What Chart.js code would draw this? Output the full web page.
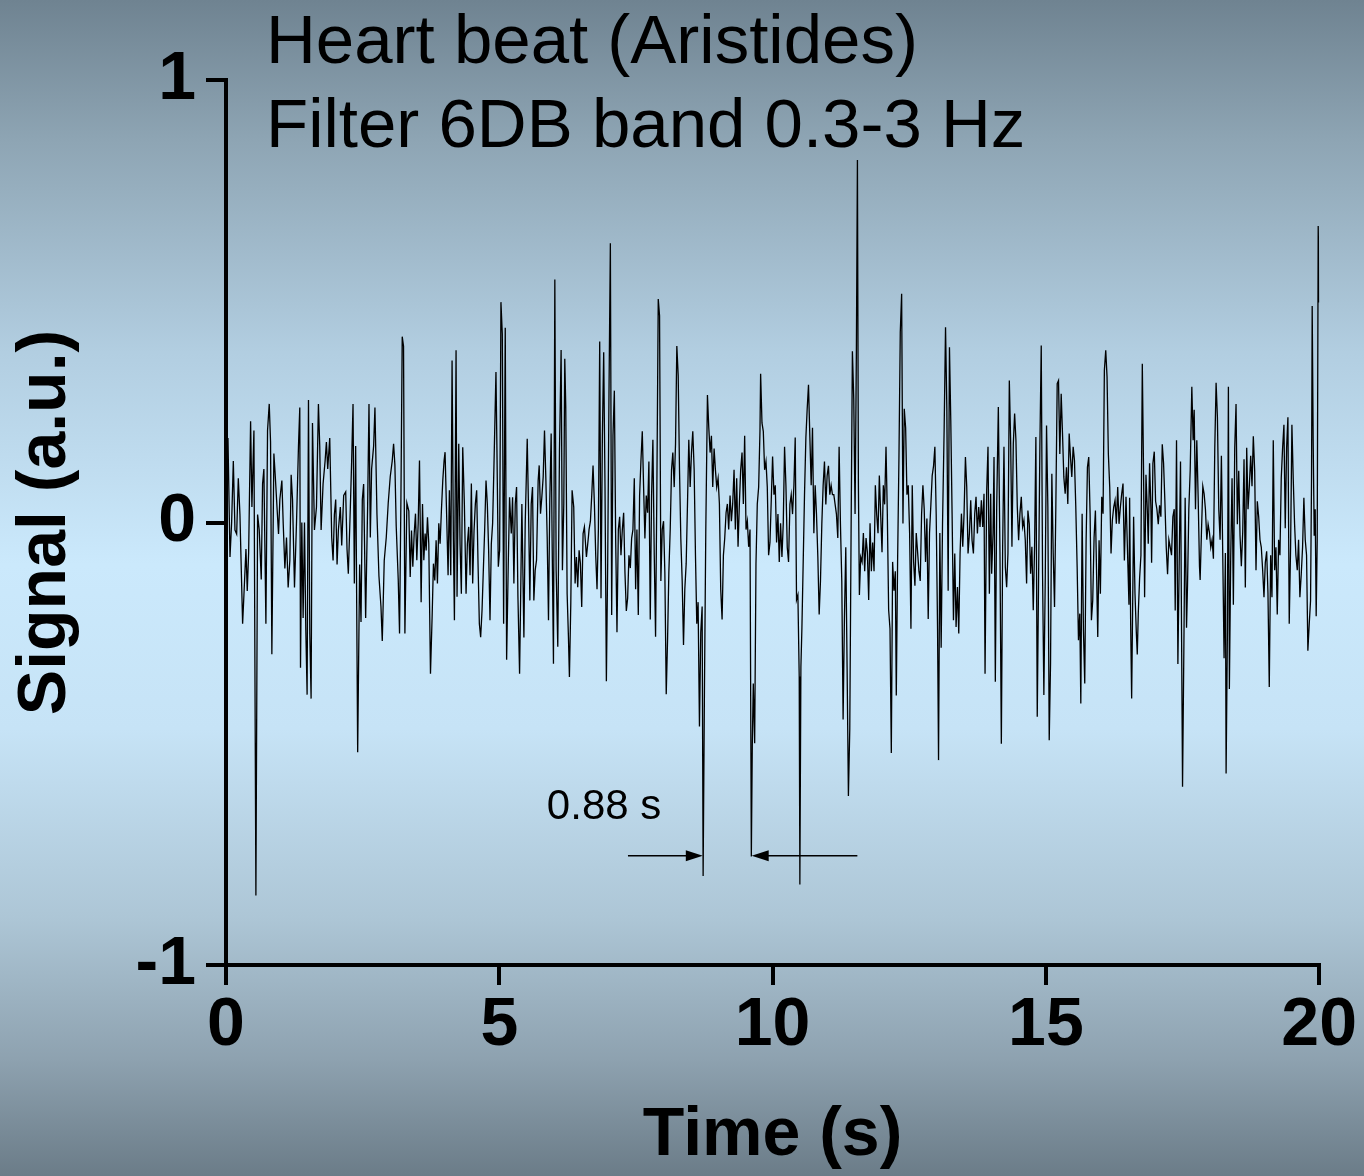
<!DOCTYPE html>
<html>
<head>
<meta charset="utf-8">
<title>Heart beat (Aristides)</title>
<script src="https://cdn.jsdelivr.net/npm/chart.js@4.4.1/dist/chart.umd.min.js"></script>
<style>
    html, body { margin: 0; padding: 0; }
    body {
        width: 1364px;
        height: 1176px;
        overflow: hidden;
        background: linear-gradient(to bottom,
            #6f8391 0%, #8ea5b4 12%, #b2cee1 30%, #cbe9fc 48%,
            #c6e3f6 62%, #adc6d6 78%, #8ea2b0 90%, #6b7c88 100%);
    }
    canvas { display: block; }
</style>
</head>
<body>
<canvas id="chart" width="1364" height="1176"></canvas>
<script>
// Readings: [time (s), signal (a.u.)]
const trace0to3 = [
    [0.036,0.191],[0.073,-0.078],[0.103,0.000],[0.134,0.139],[0.164,-0.017],[0.195,-0.026],[0.225,0.100],[0.255,0.018],
    [0.304,-0.229],[0.328,-0.164],[0.365,-0.060],[0.389,-0.155],[0.414,-0.069],[0.450,0.229],[0.474,0.035],[0.511,0.208],
    [0.547,-0.843],[0.578,0.018],[0.608,-0.017],[0.645,-0.129],[0.669,0.087],[0.693,0.121],[0.730,-0.229],[0.760,0.208],
    [0.791,0.268],[0.815,0.182],[0.839,-0.298],[0.876,0.156],[0.900,0.108],[0.937,0.026],[0.961,-0.026],[0.985,0.052],
    [1.022,0.095],[1.046,0.000],[1.077,-0.104],[1.107,-0.034],[1.137,-0.147],[1.168,-0.086],[1.192,0.108],[1.217,0.052],
    [1.253,-0.147],[1.290,0.000],[1.326,0.173],[1.350,0.260],[1.363,-0.328],[1.387,0.000],[1.411,-0.216],[1.436,0.000],
    [1.460,-0.242],[1.484,-0.389],[1.509,0.277],[1.533,-0.251],[1.557,-0.398],[1.582,0.225],[1.618,-0.017],[1.655,0.035],
    [1.691,0.268],[1.715,0.173],[1.740,-0.017],[1.776,0.087],[1.813,0.139],[1.837,0.182],[1.861,0.121],[1.898,0.191],
    [1.934,-0.034],[1.959,-0.086],[1.983,0.018],[2.007,0.052],[2.032,-0.095],[2.056,-0.017],[2.092,0.035],[2.117,-0.052],
    [2.153,0.061],[2.190,0.069],[2.214,-0.060],[2.238,-0.116],[2.275,0.035],[2.299,0.139],[2.324,0.268],[2.348,-0.138],
    [2.372,0.173],[2.409,-0.519],[2.445,-0.095],[2.470,-0.225],[2.494,0.052],[2.518,0.087],[2.555,-0.216],[2.591,0.035],
    [2.616,0.268],[2.640,-0.034],[2.664,0.121],[2.701,0.173],[2.725,0.260],[2.762,0.018],[2.798,-0.121],[2.835,-0.190],
    [2.859,-0.268],[2.895,-0.086],[2.932,-0.034],[2.968,0.044],[3.005,0.104],[3.041,0.139],[3.066,0.178],[3.090,0.130],
    [3.114,-0.008],[3.151,-0.129],[3.175,-0.251],[3.200,0.052],[3.224,0.420],[3.248,0.398],[3.273,-0.251],[3.309,0.044],
    [3.345,0.026]
];
const trace3to6 = [
    [3.370,-0.123],[3.394,-0.018],[3.418,-0.100],[3.443,-0.025],[3.467,0.020],[3.491,-0.085],[3.516,-0.002],[3.540,0.140],
    [3.570,-0.180],[3.595,0.042],[3.619,-0.085],[3.643,-0.025],[3.662,-0.063],[3.686,0.012],[3.710,-0.048],[3.741,-0.342],
    [3.771,-0.213],[3.795,-0.093],[3.820,-0.131],[3.844,-0.040],[3.868,-0.138],[3.893,-0.002],[3.917,-0.048],[3.941,0.027],
    [3.966,0.095],[3.990,0.140],[4.008,0.159],[4.033,0.035],[4.063,-0.119],[4.087,0.073],[4.112,-0.119],[4.136,0.366],
    [4.160,-0.040],[4.179,-0.221],[4.209,0.389],[4.227,-0.168],[4.258,0.178],[4.282,-0.048],[4.306,-0.161],[4.331,0.170],
    [4.361,0.042],[4.392,-0.161],[4.416,-0.048],[4.440,-0.010],[4.465,-0.119],[4.489,0.088],[4.513,-0.138],[4.538,-0.018],
    [4.562,0.042],[4.586,0.073],[4.611,-0.093],[4.635,-0.229],[4.659,-0.259],[4.684,-0.199],[4.708,-0.108],[4.732,-0.018],
    [4.757,0.095],[4.781,0.042],[4.805,-0.063],[4.830,-0.221],[4.854,-0.048],[4.878,-0.002],[4.903,0.133],[4.939,0.340],
    [4.957,0.163],[4.982,-0.100],[5.006,-0.063],[5.030,0.498],[5.055,0.426],[5.079,-0.229],[5.109,0.440],[5.134,-0.310],
    [5.164,-0.093],[5.188,0.057],[5.219,-0.025],[5.243,0.057],[5.267,-0.138],[5.292,0.042],[5.316,0.080],[5.341,-0.168],
    [5.371,-0.342],[5.389,-0.184],[5.413,0.042],[5.450,-0.260],[5.474,-0.002],[5.493,0.095],[5.511,0.189],[5.535,0.027],
    [5.559,-0.176],[5.584,0.042],[5.608,0.080],[5.632,-0.176],[5.657,-0.108],[5.681,-0.085],[5.711,0.095],[5.730,0.129],
    [5.754,0.020],[5.778,0.057],[5.803,0.103],[5.827,0.208],[5.851,0.103],[5.876,-0.033],[5.900,-0.221],[5.924,0.050],
    [5.949,0.201],[5.967,-0.048],[5.991,-0.319],[6.016,0.549],[6.040,-0.108],[6.070,-0.281],[6.101,0.163],[6.131,0.390],
    [6.155,-0.108],[6.180,0.042],[6.198,0.370],[6.216,0.261],[6.241,-0.161],[6.265,-0.259],[6.283,-0.349],[6.308,-0.184],
    [6.332,0.073],[6.362,0.035],[6.387,-0.138],[6.411,-0.078],[6.435,-0.146],[6.460,-0.063],[6.484,-0.093],[6.508,-0.191],
    [6.533,-0.025],[6.557,-0.010],[6.594,-0.078],[6.630,-0.033]
];
const trace6to10 = [
    [6.642,-0.016],[6.667,0.003],[6.691,0.061],[6.715,0.129],[6.740,0.042],[6.764,-0.074],[6.788,-0.151],[6.813,-0.016],
    [6.837,0.409],[6.861,-0.171],[6.886,0.196],[6.910,0.385],[6.934,0.080],[6.959,-0.359],[6.983,-0.093],[7.007,0.293],
    [7.032,0.631],[7.056,-0.209],[7.080,0.196],[7.105,0.298],[7.129,-0.036],[7.153,-0.248],[7.178,-0.016],[7.202,0.013],
    [7.226,-0.074],[7.251,-0.016],[7.275,0.022],[7.299,-0.113],[7.324,-0.200],[7.348,-0.171],[7.372,-0.074],[7.397,-0.103],
    [7.421,-0.036],[7.445,-0.016],[7.470,0.100],[7.494,-0.151],[7.518,-0.016],[7.543,-0.209],[7.567,0.061],[7.591,0.138],
    [7.616,0.206],[7.640,0.080],[7.664,-0.036],[7.689,0.061],[7.713,0.022],[7.737,0.138],[7.762,-0.219],[7.786,0.061],
    [7.810,0.187],[7.835,-0.074],[7.859,-0.258],[7.883,0.080],[7.908,0.505],[7.932,0.467],[7.956,-0.132],[7.981,-0.016],
    [8.005,0.003],[8.029,-0.113],[8.054,-0.388],[8.078,-0.267],[8.102,-0.113],[8.127,-0.016],[8.151,0.119],[8.175,0.158],
    [8.200,0.080],[8.224,0.177],[8.248,0.399],[8.273,0.332],[8.297,0.119],[8.321,-0.036],[8.346,-0.132],[8.370,-0.277],
    [8.394,-0.151],[8.419,-0.093],[8.443,0.042],[8.467,0.187],[8.492,0.080],[8.516,0.158],[8.540,0.206],[8.565,0.119],
    [8.589,-0.074],[8.613,-0.229],[8.637,-0.180],[8.662,-0.461],[8.686,-0.248],[8.711,-0.190],[8.729,-0.799],[8.753,-0.383],
    [8.778,-0.016],[8.808,0.288],[8.832,0.216],[8.857,0.158],[8.881,0.196],[8.905,0.080],[8.930,0.167],[8.954,0.119],
    [8.978,0.080],[9.003,0.100],[9.027,0.042],[9.051,-0.151],[9.076,-0.219],[9.100,-0.074],[9.124,-0.036],[9.149,0.022],
    [9.173,0.042],[9.197,-0.016],[9.222,0.061],[9.246,0.003],[9.270,0.042],[9.295,0.119],[9.319,-0.016],[9.343,0.100],
    [9.368,-0.055],[9.392,0.042],[9.416,0.119],[9.441,0.158],[9.465,0.042],[9.489,0.196],[9.514,-0.016],[9.538,0.003],
    [9.562,-0.055],[9.587,-0.016],[9.611,-0.755],[9.629,-0.499],[9.647,-0.364],[9.672,-0.499],[9.696,-0.093],[9.720,0.042],
    [9.745,0.080],[9.769,0.206],[9.781,0.336],[9.806,0.225],[9.830,0.206],[9.854,0.119],[9.879,0.138],[9.903,0.080],
    [9.927,-0.074]
];
const trace10to13 = [
    [9.952,-0.045],[9.976,0.052],[10.000,0.149],[10.025,0.063],[10.049,0.084],[10.073,-0.045],[10.098,0.019],[10.122,-0.089],
    [10.146,-0.002],[10.171,-0.078],[10.195,-0.002],[10.219,0.171],[10.244,0.084],[10.268,-0.056],[10.292,-0.089],[10.317,0.041],
    [10.341,0.063],[10.365,0.019],[10.390,0.084],[10.414,0.192],[10.438,-0.175],[10.463,-0.164],[10.487,-0.348],[10.499,-0.818],
    [10.518,-0.326],[10.536,-0.240],[10.560,-0.089],[10.584,0.063],[10.609,0.192],[10.633,0.257],[10.657,0.311],[10.682,0.192],
    [10.706,0.084],[10.730,0.214],[10.755,-0.024],[10.779,0.084],[10.803,0.019],[10.828,-0.078],[10.852,-0.208],[10.876,-0.132],
    [10.901,-0.002],[10.925,0.084],[10.949,0.138],[10.974,0.041],[10.998,0.106],[11.022,0.128],[11.047,0.063],[11.071,0.084],
    [11.095,0.063],[11.120,0.063],[11.144,0.041],[11.168,0.019],[11.193,-0.035],[11.217,0.171],[11.241,-0.002],[11.266,-0.132],
    [11.290,-0.445],[11.314,-0.218],[11.339,-0.056],[11.363,-0.326],[11.387,-0.618],[11.412,-0.467],[11.436,-0.024],[11.460,0.387],
    [11.485,0.279],[11.509,0.019],[11.533,0.387],[11.552,0.819],[11.570,0.084],[11.588,-0.164],[11.612,-0.078],[11.637,-0.089],
    [11.661,-0.024],[11.685,-0.110],[11.710,-0.035],[11.734,-0.067],[11.758,-0.175],[11.783,-0.002],[11.807,-0.110],[11.831,-0.045],
    [11.856,-0.110],[11.880,0.084],[11.904,0.019],[11.929,-0.024],[11.953,0.106],[11.977,0.019],[12.002,-0.067],[12.026,0.084],
    [12.050,0.041],[12.075,0.171],[12.099,0.019],[12.123,-0.197],[12.148,-0.240],[12.172,-0.521],[12.196,-0.089],[12.221,-0.154],
    [12.245,-0.110],[12.263,-0.391],[12.287,-0.089],[12.312,0.149],[12.336,0.430],[12.361,0.517],[12.385,-0.002],[12.409,0.257],
    [12.434,0.214],[12.458,0.063],[12.482,0.084],[12.507,-0.024],[12.531,-0.240],[12.555,0.084],[12.580,-0.089],[12.604,-0.143],
    [12.628,-0.024],[12.653,-0.067],[12.677,-0.110],[12.701,-0.132],[12.726,0.019],[12.750,0.084],[12.774,0.030],[12.798,-0.089],
    [12.823,0.009],[12.847,-0.218],[12.871,-0.024],[12.896,0.041],[12.920,0.106],[12.945,0.128],[12.969,0.171],[12.993,0.019],
    [13.018,-0.240],[13.036,-0.537],[13.060,-0.024],[13.084,-0.283],[13.109,-0.002],[13.139,0.214],[13.164,0.441],[13.188,0.257],
    [13.212,-0.154]
];
const trace13to16 = [
    [13.236,0.396],[13.260,0.231],[13.284,0.020],[13.309,-0.221],[13.333,-0.070],[13.357,-0.236],[13.382,-0.146],[13.406,-0.251],
    [13.430,-0.070],[13.455,0.020],[13.479,-0.055],[13.503,0.020],[13.528,0.148],[13.552,0.080],[13.576,-0.070],[13.601,-0.025],
    [13.625,0.050],[13.649,-0.040],[13.674,-0.070],[13.698,0.020],[13.722,0.058],[13.747,-0.025],[13.771,0.035],[13.795,-0.010],
    [13.820,0.050],[13.844,-0.010],[13.868,0.065],[13.887,-0.342],[13.917,0.073],[13.941,0.171],[13.966,-0.161],[13.990,0.065],
    [14.008,-0.116],[14.033,-0.025],[14.051,0.148],[14.075,-0.360],[14.100,0.035],[14.130,0.261],[14.160,-0.070],[14.185,-0.500],
    [14.209,-0.055],[14.233,0.171],[14.258,-0.101],[14.282,-0.146],[14.306,-0.070],[14.331,0.321],[14.355,0.186],[14.379,-0.055],
    [14.404,0.178],[14.428,0.246],[14.452,0.186],[14.477,0.035],[14.501,-0.040],[14.525,0.020],[14.550,0.058],[14.574,-0.010],
    [14.598,0.005],[14.623,-0.040],[14.647,-0.138],[14.671,0.027],[14.696,-0.003],[14.720,-0.116],[14.744,-0.055],[14.769,-0.198],
    [14.793,-0.055],[14.817,0.193],[14.842,-0.439],[14.866,-0.131],[14.890,0.171],[14.915,0.400],[14.939,-0.116],[14.963,-0.390],
    [14.988,-0.131],[15.012,0.219],[15.036,0.035],[15.061,-0.492],[15.085,-0.319],[15.109,0.110],[15.134,-0.070],[15.158,-0.191],
    [15.182,0.035],[15.207,0.314],[15.231,0.321],[15.255,0.155],[15.280,0.291],[15.304,0.201],[15.328,0.103],[15.353,0.065],
    [15.377,0.125],[15.401,0.042],[15.426,0.201],[15.450,0.148],[15.474,0.103],[15.499,0.171],[15.523,0.140],[15.547,0.035],
    [15.572,-0.101],[15.596,-0.266],[15.620,-0.206],[15.639,-0.409],[15.663,0.020],[15.687,-0.244],[15.711,-0.364],[15.736,-0.040],
    [15.760,0.125],[15.784,0.148],[15.809,0.020],[15.833,-0.221],[15.857,-0.176],[15.882,-0.033],[15.906,0.027],[15.930,-0.131],
    [15.949,-0.259],[15.973,-0.040],[15.997,-0.161],[16.022,0.058],[16.046,0.020],[16.070,0.344],[16.095,0.389],[16.119,0.329],
    [16.143,0.155],[16.168,0.080],[16.192,-0.070],[16.216,0.005],[16.241,0.035],[16.265,0.050],[16.289,-0.003],[16.314,0.080],
    [16.338,-0.003],[16.363,0.035],[16.387,0.065],[16.411,0.088],[16.436,-0.086],[16.466,0.058]
];
const trace16to20 = [
    [16.520,-0.186],[16.532,0.056],[16.551,-0.229],[16.569,-0.398],[16.593,-0.125],[16.605,0.013],[16.630,-0.160],[16.654,-0.247],
    [16.672,-0.298],[16.691,-0.203],[16.715,-0.125],[16.739,-0.074],[16.764,0.359],[16.788,0.100],[16.806,-0.169],[16.831,0.108],
    [16.855,0.030],[16.873,-0.048],[16.897,0.134],[16.922,0.030],[16.934,-0.091],[16.958,0.134],[16.983,0.160],[17.007,0.048],
    [17.031,0.030],[17.056,-0.004],[17.080,0.039],[17.104,0.013],[17.129,0.177],[17.153,0.134],[17.177,0.048],[17.202,-0.056],
    [17.226,-0.117],[17.250,-0.039],[17.275,-0.056],[17.299,-0.074],[17.323,0.013],[17.348,0.030],[17.366,-0.199],[17.390,0.186],
    [17.415,-0.320],[17.439,-0.091],[17.463,0.138],[17.482,-0.247],[17.500,-0.597],[17.524,-0.290],[17.548,0.056],[17.573,-0.238],
    [17.591,-0.143],[17.615,0.030],[17.640,0.117],[17.670,0.307],[17.694,0.186],[17.713,0.255],[17.737,0.030],[17.761,0.186],
    [17.786,0.056],[17.810,-0.099],[17.822,-0.130],[17.846,-0.022],[17.871,0.082],[17.895,0.065],[17.919,0.030],[17.944,-0.039],
    [17.968,-0.004],[17.992,-0.022],[18.017,-0.056],[18.041,-0.039],[18.065,-0.082],[18.090,0.169],[18.114,0.316],[18.138,0.238],
    [18.163,0.030],[18.187,-0.039],[18.211,0.151],[18.236,-0.074],[18.260,-0.307],[18.284,-0.069],[18.297,-0.567],[18.321,-0.247],
    [18.339,0.307],[18.357,-0.376],[18.382,-0.074],[18.406,0.100],[18.430,-0.186],[18.455,0.169],[18.479,0.268],[18.503,-0.004],
    [18.528,0.117],[18.552,-0.030],[18.576,-0.099],[18.601,-0.022],[18.625,0.143],[18.649,-0.147],[18.674,0.169],[18.698,0.030],
    [18.722,0.082],[18.747,0.151],[18.771,0.082],[18.795,0.195],[18.820,0.117],[18.844,-0.108],[18.868,0.048],[18.893,0.013],
    [18.917,-0.039],[18.941,-0.056],[18.966,-0.108],[18.990,-0.169],[19.014,-0.091],[19.039,-0.065],[19.063,-0.160],[19.087,-0.372],
    [19.112,-0.074],[19.136,-0.169],[19.160,0.186],[19.185,-0.108],[19.209,-0.056],[19.233,-0.208],[19.258,-0.039],[19.282,-0.074],
    [19.306,0.100],[19.331,0.169],[19.355,0.221],[19.379,-0.013],[19.404,0.169],[19.428,0.238],[19.452,-0.229],[19.477,-0.056],
    [19.501,0.221],[19.525,0.100],[19.550,-0.004],[19.574,-0.074],[19.599,-0.108],[19.623,-0.039],[19.647,-0.169],[19.672,-0.117],
    [19.696,-0.056],[19.720,0.056],[19.745,-0.039],[19.769,-0.074],[19.793,-0.290],[19.818,-0.229],[19.842,-0.177],[19.860,0.100],
    [19.872,0.489],[19.890,0.186],[19.909,-0.030],[19.927,0.030],[19.945,-0.212],[19.964,-0.039],[19.982,0.670],[20.000,0.497]
];

const xTicks = [0, 5, 10, 15, 20];
const yTicks = [-1, 0, 1];

const titleLines = ['Heart beat (Aristides)', 'Filter 6DB band 0.3-3 Hz'];
const periodLabel = '0.88 s';
// arrow tails and tips in (time, signal) units
const periodArrows = [
    { from: [7.354, -0.753], to: [8.723, -0.753] },
    { from: [11.551, -0.753], to: [9.617, -0.753] }
];
const periodLabelAt = [5.87, -0.671];

const FONT = '"Liberation Sans", Arial, Helvetica, sans-serif';

const points = [].concat(trace0to3, trace3to6, trace6to10, trace10to13, trace13to16, trace16to20)
    .map(([t, v]) => ({ x: t, y: v }));

// Title text and the 0.88 s period marks
const overlay = {
    id: 'overlay',
    afterDatasetsDraw(chart) {
        const { ctx, scales: { x, y } } = chart;
        ctx.save();
        ctx.fillStyle = '#000';
        ctx.strokeStyle = '#000';
        ctx.textBaseline = 'alphabetic';
        ctx.textAlign = 'left';
        ctx.font = '69px ' + FONT;
        titleLines.forEach((line, i) => ctx.fillText(line, 266, 63 + i * 84));

        ctx.font = '42px ' + FONT;
        ctx.fillText(periodLabel, x.getPixelForValue(periodLabelAt[0]), y.getPixelForValue(periodLabelAt[1]));

        ctx.lineWidth = 1.6;
        periodArrows.forEach(a => {
            const x0 = x.getPixelForValue(a.from[0]);
            const y0 = y.getPixelForValue(a.from[1]);
            const x1 = x.getPixelForValue(a.to[0]);
            const y1 = y.getPixelForValue(a.to[1]);
            const dir = Math.sign(x1 - x0);
            ctx.beginPath();
            ctx.moveTo(x0, y0);
            ctx.lineTo(x1 - dir * 10, y1);
            ctx.stroke();
            ctx.beginPath();
            ctx.moveTo(x1, y1);
            ctx.lineTo(x1 - dir * 17, y1 - 5.5);
            ctx.lineTo(x1 - dir * 17, y1 + 5.5);
            ctx.closePath();
            ctx.fill();
        });
        ctx.restore();
    }
};

new Chart(document.getElementById('chart'), {
    type: 'line',
    data: {
        datasets: [{
            data: points,
            borderColor: '#000',
            borderWidth: 1.3,
            pointRadius: 0,
            tension: 0,
            fill: false
        }]
    },
    options: {
        responsive: false,
        animation: false,
        events: [],
        layout: { padding: { top: 80, right: 42, left: 0, bottom: 0 } },
        plugins: {
            legend: { display: false },
            tooltip: { enabled: false }
        },
        scales: {
            x: {
                type: 'linear',
                min: 0,
                max: 20,
                afterFit: s => { s.height = 211; },
                afterBuildTicks: s => { s.ticks = xTicks.map(v => ({ value: v })); },
                grid: { drawOnChartArea: false, drawTicks: true, tickLength: 20, lineWidth: 4, color: '#000' },
                border: { display: true, color: '#000', width: 4 },
                ticks: {
                    color: '#000',
                    padding: 7,
                    maxRotation: 0,
                    font: { family: FONT, size: 68, weight: 'bold', lineHeight: 1 }
                },
                title: {
                    display: true,
                    text: 'Time (s)',
                    color: '#000',
                    padding: { top: 0, bottom: 6 },
                    font: { family: FONT, size: 68, weight: 'bold', lineHeight: 1 }
                }
            },
            y: {
                min: -1,
                max: 1,
                afterFit: s => { s.width = 226; },
                afterBuildTicks: s => { s.ticks = yTicks.map(v => ({ value: v })); },
                grid: { drawOnChartArea: false, drawTicks: true, tickLength: 20, lineWidth: 4, color: '#000' },
                border: { display: true, color: '#000', width: 4 },
                ticks: {
                    color: '#000',
                    padding: 10,
                    font: { family: FONT, size: 68, weight: 'bold', lineHeight: 1 }
                },
                title: {
                    display: true,
                    text: 'Signal (a.u.)',
                    color: '#000',
                    padding: { top: 12, bottom: 0 },
                    font: { family: FONT, size: 68, weight: 'bold', lineHeight: 1 }
                }
            }
        }
    },
    plugins: [overlay]
});
</script>
</body>
</html>
